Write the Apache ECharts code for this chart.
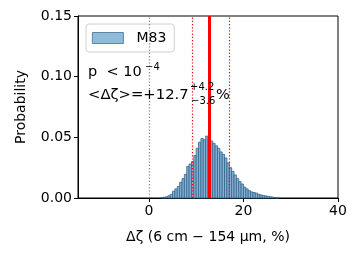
<!DOCTYPE html>
<html>
<head>
<meta charset="utf-8">
<script src="https://cdn.jsdelivr.net/npm/echarts@6/dist/echarts.min.js"></script>
<style>html,body{margin:0;padding:0;background:#fff}#c{width:359px;height:258px}</style>
</head>
<body>
<div id="c"></div>
<script>
// Histogram bins (left edges, width 0.5) and probabilities
const binWidth = 0.5;
const binStarts = [2.5,3.0,3.5,4.0,4.5,5.0,5.5,6.0,6.5,7.0,7.5,8.0,8.5,9.0,9.5,10.0,10.5,11.0,11.5,12.0,12.5,13.0,13.5,14.0,14.5,15.0,15.5,16.0,16.5,17.0,17.5,18.0,18.5,19.0,19.5,20.0,20.5,21.0,21.5,22.0,22.5,23.0,23.5,24.0,24.5,25.0,25.5,26.0,26.5,27.0];
const probs = [0.0003,0.0006,0.001,0.0018,0.003,0.0055,0.0075,0.0095,0.013,0.016,0.0195,0.026,0.028,0.030,0.035,0.041,0.046,0.049,0.048,0.051,0.049,0.047,0.045,0.043,0.041,0.038,0.036,0.033,0.029,0.025,0.022,0.019,0.016,0.0135,0.0115,0.009,0.0075,0.006,0.005,0.0045,0.004,0.003,0.0025,0.002,0.0017,0.0014,0.001,0.0007,0.0004,0.0002];
const seriesName = 'M83';
const zeroLine = 0;
const meanValue = 12.7;
const errLow = 3.6;
const errHigh = 4.2;
const xTicks = [0, 20, 40];
const yTicks = [0, 0.05, 0.10, 0.15];
const xLabel = 'Δζ (6 cm − 154 μm, %)';
const yLabel = 'Probability';
const pText = 'p  < 10';
const pExp = '−4';
const meanText = '<Δζ>=+12.7';
const supText = '+4.2';
const subText = '−3.6';
const pctText = '%';

const FONT = 'DejaVu Sans';
const data = binStarts.map((s, i) => [s, s + binWidth, probs[i]]);

const chart = echarts.init(document.getElementById('c'), null, {renderer: 'canvas'});
chart.setOption({
  animation: false,
  grid: {left: 78, right: 21, top: 16, bottom: 60, show: true, borderColor: '#000', borderWidth: 1, backgroundColor: 'transparent'},
  xAxis: {
    type: 'value', min: -15, max: 40,
    axisLine: {show: true, onZero: false, lineStyle: {color: '#000', width: 1}},
    axisTick: {show: true, inside: false, length: 4, customValues: xTicks, lineStyle: {color: '#000'}},
    axisLabel: {show: true, customValues: xTicks, margin: 6, fontFamily: FONT, fontSize: 14, color: '#000'},
    splitLine: {show: false},
    name: xLabel, nameLocation: 'middle', nameGap: 32,
    nameTextStyle: {fontFamily: FONT, fontSize: 14, color: '#000'}
  },
  yAxis: {
    type: 'value', min: 0, max: 0.15, interval: 0.05,
    axisLine: {show: true, onZero: false, lineStyle: {color: '#000', width: 1}},
    axisTick: {show: true, inside: false, length: 4, lineStyle: {color: '#000'}},
    axisLabel: {show: true, margin: 6, fontFamily: FONT, fontSize: 14, color: '#000', formatter: v => v.toFixed(2)},
    splitLine: {show: false},
    name: yLabel, nameLocation: 'middle', nameGap: 50, nameRotate: 90,
    nameTextStyle: {fontFamily: FONT, fontSize: 14, color: '#000'}
  },
  legend: {
    show: true, left: 86, top: 24, orient: 'vertical',
    padding: [7, 8, 7, 6],
    backgroundColor: '#fff', borderColor: '#d0d0d0', borderWidth: 1, borderRadius: 3,
    itemWidth: 31, itemHeight: 11, itemGap: 5,
    textStyle: {fontFamily: FONT, fontSize: 14, color: '#000', padding: [0, 0, 0, 8]},
    data: [{name: seriesName, icon: 'rect', itemStyle: {color: '#8fbbd9', borderColor: '#3f6f95', borderWidth: 0.8}}]
  },
  series: [
    {
      name: seriesName, type: 'custom',
      itemStyle: {color: '#8fbbd9'},
      data: data,
      encode: {x: [0, 1], y: 2},
      renderItem: function (params, api) {
        const p0 = api.coord([api.value(0), api.value(2)]);
        const p1 = api.coord([api.value(1), 0]);
        return {
          type: 'rect',
          shape: {x: p0[0], y: p0[1], width: p1[0] - p0[0], height: p1[1] - p0[1]},
          style: {fill: '#86b3d4', stroke: '#33638a', lineWidth: 0.8}
        };
      },
      z: 2
    },
    {
      name: 'lines', type: 'line', data: [], z: 3,
      markLine: {
        silent: true, symbol: 'none', label: {show: false}, animation: false,
        data: [
          {xAxis: zeroLine, lineStyle: {color: '#808080', width: 1.2, type: [1.2, 2]}},
          {xAxis: meanValue - errLow, lineStyle: {color: '#ff0000', width: 1.2, type: [1.2, 2]}},
          {xAxis: meanValue + errHigh, lineStyle: {color: '#ff0000', width: 1.2, type: [1.2, 2]}},
          {xAxis: meanValue, lineStyle: {color: '#ff0000', width: 3, type: 'solid'}}
        ]
      }
    }
  ],
  graphic: [
    {type: 'text', left: 88, top: 65, z: 10, style: {text: pText, font: '14.5px ' + FONT, fill: '#000'}},
    {type: 'text', left: 145, top: 62, z: 10, style: {text: pExp, font: '10px ' + FONT, fill: '#000'}},
    {type: 'text', left: 88, top: 88, z: 10, style: {text: meanText, font: '14.8px ' + FONT, fill: '#000'}},
    {type: 'text', left: 190, top: 82, z: 10, style: {text: supText, font: '10px ' + FONT, fill: '#000'}},
    {type: 'text', left: 191, top: 96, z: 10, style: {text: subText, font: '10px ' + FONT, fill: '#000'}},
    {type: 'text', left: 216, top: 88, z: 10, style: {text: pctText, font: '14.5px ' + FONT, fill: '#000'}}
  ]
});
</script>
</body>
</html>
